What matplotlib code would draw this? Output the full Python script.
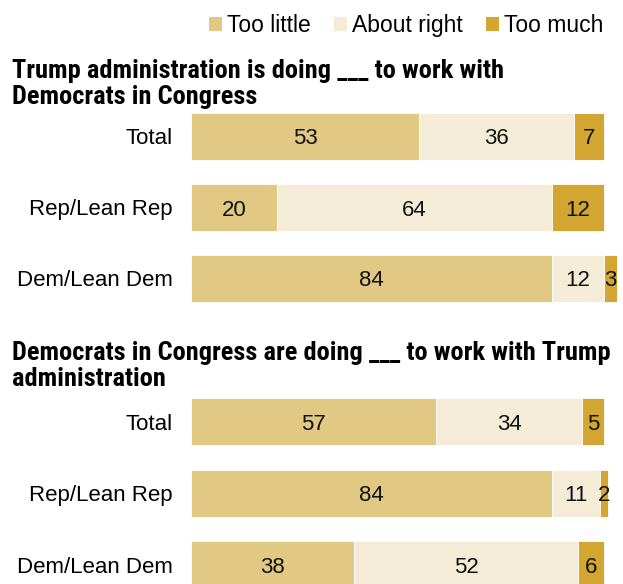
import matplotlib
matplotlib.use("Agg")
import matplotlib.pyplot as plt
from matplotlib.patches import Patch

plt.rcParams['font.family'] = ['Liberation Sans', 'DejaVu Sans']
title_family = ['Roboto Condensed', 'DejaVu Sans']

groups = ["Total", "Rep/Lean Rep", "Dem/Lean Dem"]
series_names = ["Too little", "About right", "Too much"]
colors = ["#E1C983", "#F5ECD7", "#D2A631"]

titles = ["Trump administration is doing ___ to work with\nDemocrats in Congress",
          "Democrats in Congress are doing ___ to work with Trump\nadministration"]

trump_little = [53, 20, 84]
trump_right = [36, 64, 12]
trump_much = [7, 12, 3]

dem_little = [57, 84, 38]
dem_right = [34, 11, 52]
dem_much = [5, 2, 6]

panels = [(trump_little, trump_right, trump_much), (dem_little, dem_right, dem_much)]

W, H = 623, 584
fig = plt.figure(figsize=(W / 100, H / 100), dpi=100)

x0 = 191
pxu = 4.3
xmax = (W - x0) / pxu

boxes = [(101, 314, 71.0), (386, 584, 71.5)]
title_y = [59, 341]
fs = 16

for k, (vals, (top, bot, step)) in enumerate(zip(panels, boxes)):
    ax = fig.add_axes([x0 / W, 1 - bot / H, 1 - x0 / W, (bot - top) / H])
    n = (bot - top) / step
    ax.set_ylim(-0.5 + n, -0.5)
    ax.set_xlim(0, xmax)
    left = [0, 0, 0]
    for s, (v, c) in enumerate(zip(vals, colors)):
        ax.barh(range(3), v, left=left, height=47 / step, color=c,
                edgecolor="white", linewidth=0.6)
        for i in range(3):
            cx = left[i] + v[i] / 2
            ax.text(cx, i, str(v[i]), ha="center", va="center_baseline", fontsize=fs, color="#111111")
        left = [l + vv for l, vv in zip(left, v)]
    ax.set_yticks(range(3))
    ax.set_yticklabels(groups, fontsize=fs)
    ax.tick_params(axis="y", length=0, pad=13)
    ax.set_xticks([])
    for sp in ax.spines.values():
        sp.set_visible(False)
    fig.text(12 / W, 1 - title_y[k] / H, titles[k], ha="left", va="top",
             fontsize=19, fontweight="bold", family=title_family,
             linespacing=1.08)

handles = [Patch(facecolor=c, edgecolor="none") for c in colors]
fig.legend(handles, series_names, loc="upper right", bbox_to_anchor=(1 - 10 / W, 1 - 5 / H),
           ncol=3, frameon=False, fontsize=16.5, handlelength=0.55, handleheight=0.55,
           handletextpad=0.25, columnspacing=1.0, borderaxespad=0)

fig.savefig("out.png", dpi=100)
